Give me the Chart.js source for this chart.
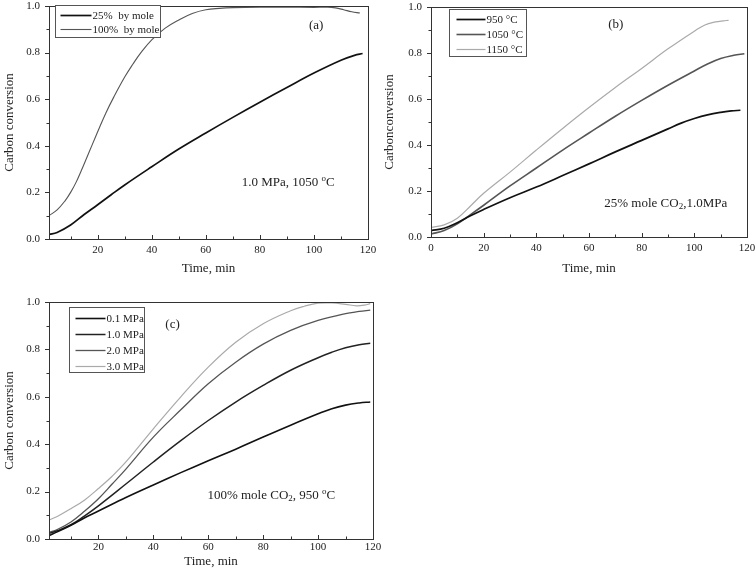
<!DOCTYPE html>
<html>
<head>
<meta charset="utf-8">
<script src="https://cdn.jsdelivr.net/npm/chart.js@4.4.1/dist/chart.umd.min.js"></script>
<style>
  body { margin: 0; background: #fff; }
  canvas { position: absolute; }
</style>
</head>
<body>
<canvas id="chart_a" style="left:0;top:0" width="380" height="280"></canvas>
<canvas id="chart_b" style="left:380px;top:0" width="376" height="280"></canvas>
<canvas id="chart_c" style="left:0;top:285px" width="400" height="293"></canvas>
<script>
const FONT = "'Liberation Serif', 'Times New Roman', serif";

// tick labels
const xTicksAC = [20, 40, 60, 80, 100, 120];
const xTicksB = [0, 20, 40, 60, 80, 100, 120];
const yTicks = [0, 0.2, 0.4, 0.6, 0.8, 1.0];

// (a) 1.0 MPa, 1050 C
const timeA25 = [2, 5, 10, 15, 20, 25, 30, 40, 50, 60, 70, 80, 90, 100, 110, 115, 118];
const convA25 = [0.019, 0.028, 0.06, 0.105, 0.147, 0.19, 0.232, 0.31, 0.386, 0.455, 0.522, 0.587, 0.65, 0.712, 0.767, 0.788, 0.796];
const timeA100 = [2, 5, 8, 10, 12, 14, 16, 18, 20, 23, 26, 30, 33, 36, 40, 45, 50, 55, 60, 65, 70, 80, 90, 100, 105, 108, 111, 114, 117];
const convA100 = [0.10, 0.125, 0.165, 0.20, 0.243, 0.295, 0.35, 0.405, 0.46, 0.54, 0.61, 0.695, 0.75, 0.80, 0.855, 0.905, 0.94, 0.968, 0.984, 0.99, 0.993, 0.995, 0.995, 0.994, 0.995, 0.992, 0.984, 0.975, 0.97];

// (b) 25% mole CO2, 1.0 MPa
const timeB950 = [0, 5, 10, 15, 20, 30, 40, 50, 60, 70, 80, 90, 95, 100, 105, 110, 114, 117.5];
const convB950 = [0.028, 0.038, 0.062, 0.092, 0.12, 0.171, 0.217, 0.267, 0.318, 0.37, 0.42, 0.47, 0.495, 0.515, 0.531, 0.542, 0.548, 0.551];
const timeB1050 = [0, 5, 10, 15, 20, 30, 40, 50, 60, 70, 80, 90, 100, 105, 110, 115, 119];
const convB1050 = [0.013, 0.028, 0.057, 0.097, 0.138, 0.222, 0.3, 0.378, 0.452, 0.525, 0.594, 0.66, 0.722, 0.752, 0.776, 0.79, 0.797];
const timeB1150 = [0, 5, 10, 15, 20, 30, 40, 50, 60, 70, 80, 90, 100, 104, 108, 111, 113];
const convB1150 = [0.042, 0.053, 0.082, 0.135, 0.19, 0.282, 0.378, 0.472, 0.563, 0.65, 0.733, 0.818, 0.895, 0.922, 0.935, 0.94, 0.942];

// (c) 100% mole CO2, 950 C
const timeC01 = [2, 5, 10, 15, 20, 30, 40, 50, 60, 70, 80, 90, 100, 105, 110, 115, 119];
const convC01 = [0.014, 0.03, 0.058, 0.09, 0.118, 0.175, 0.228, 0.28, 0.33, 0.379, 0.43, 0.48, 0.528, 0.55, 0.565, 0.574, 0.578];
const timeC10 = [2, 5, 10, 15, 20, 30, 40, 50, 60, 70, 80, 90, 100, 105, 110, 115, 119];
const convC10 = [0.024, 0.035, 0.06, 0.098, 0.14, 0.232, 0.325, 0.415, 0.5, 0.578, 0.648, 0.712, 0.765, 0.788, 0.807, 0.82, 0.826];
const timeC20 = [2, 5, 10, 15, 20, 25, 30, 40, 50, 60, 70, 80, 90, 100, 110, 115, 119];
const convC20 = [0.028, 0.04, 0.072, 0.118, 0.17, 0.232, 0.295, 0.43, 0.545, 0.655, 0.746, 0.822, 0.88, 0.922, 0.951, 0.96, 0.966];
const timeC30 = [2, 5, 10, 15, 20, 25, 30, 40, 50, 60, 70, 80, 90, 95, 100, 105, 110, 114, 117, 119];
const convC30 = [0.08, 0.095, 0.128, 0.165, 0.213, 0.265, 0.325, 0.465, 0.6, 0.725, 0.83, 0.908, 0.963, 0.982, 0.995, 0.996, 0.99, 0.984, 0.987, 0.993];

function pts(xs, ys) {
    return xs.map((x, i) => ({x: x, y: ys[i]}));
}

function series(label, xs, ys, color, width) {
    return {label: label, data: pts(xs, ys), borderColor: color, backgroundColor: color,
            borderWidth: width, pointRadius: 0, fill: false, tension: 0.4};
}

// frame, inward x ticks, outward y ticks, boxed legend and text notes
const framePlugin = {
    id: 'frame',
    afterDatasetsDraw(chart, args, opts) {
        const ctx = chart.ctx;
        const a = chart.chartArea;
        const xs = chart.scales.x, ys = chart.scales.y;
        ctx.save();
        ctx.strokeStyle = '#333';
        ctx.lineWidth = 1;
        ctx.strokeRect(Math.round(a.left) + 0.5, Math.round(a.top) + 0.5,
                       Math.round(a.right - a.left), Math.round(a.bottom - a.top));
        ctx.beginPath();
        for (let v = Math.ceil(xs.min / 10) * 10; v <= xs.max; v += 10) {
            const px = Math.round(xs.getPixelForValue(v)) + 0.5;
            ctx.moveTo(px, a.bottom);
            ctx.lineTo(px, a.bottom - (v % 20 === 0 ? 4 : 2.5));
        }
        for (let i = 0; i <= 10; i++) {
            const py = Math.round(ys.getPixelForValue(i / 10)) + 0.5;
            ctx.moveTo(a.left, py);
            ctx.lineTo(a.left - (i % 2 === 0 ? 4 : 2.5), py);
        }
        ctx.stroke();

        // legend
        const lg = opts.legend;
        const bx = Math.round(a.left + lg.dx) + 0.5, by = Math.round(a.top + lg.dy) + 0.5;
        ctx.fillStyle = '#fff';
        ctx.fillRect(bx, by, lg.w, lg.h);
        ctx.strokeStyle = '#555';
        ctx.strokeRect(bx, by, lg.w, lg.h);
        ctx.font = '11px ' + FONT;
        ctx.textBaseline = 'middle';
        ctx.textAlign = 'left';
        chart.data.datasets.forEach((ds, i) => {
            const ry = by + lg.row0 + i * lg.rowH;
            ctx.strokeStyle = ds.borderColor;
            ctx.lineWidth = ds.borderWidth;
            ctx.beginPath();
            ctx.moveTo(bx + lg.x0, ry);
            ctx.lineTo(bx + lg.x1, ry);
            ctx.stroke();
            ctx.fillStyle = '#222';
            ctx.fillText(ds.label, bx + lg.x1 + 1, ry + 1);
        });

        // notes: parts are [text, 'sup' | 'sub' | '']
        opts.notes.forEach(n => {
            const size = n.size || 13;
            const widths = n.parts.map(p => {
                ctx.font = (p[1] ? Math.round(size * 0.7) : size) + 'px ' + FONT;
                return ctx.measureText(p[0]).width;
            });
            const total = widths.reduce((s, w) => s + w, 0);
            let px = xs.getPixelForValue(n.x);
            if (n.center) px -= total / 2;
            const py = ys.getPixelForValue(n.y);
            ctx.fillStyle = '#222';
            n.parts.forEach((p, i) => {
                ctx.font = (p[1] ? Math.round(size * 0.7) : size) + 'px ' + FONT;
                const dy = p[1] === 'sup' ? -4 : (p[1] === 'sub' ? 3 : 0);
                ctx.fillText(p[0], px, py + dy);
                px += widths[i];
            });
        });
        ctx.restore();
    }
};

function makeChart(id, datasets, p) {
    const ctx = document.getElementById(id).getContext('2d');
    return new Chart(ctx, {
        type: 'line',
        data: {datasets: datasets},
        plugins: [framePlugin],
        options: {
            responsive: false,
            animation: false,
            layout: {padding: {left: 0, top: p.top, right: p.right, bottom: 0}},
            plugins: {
                legend: {display: false},
                tooltip: {enabled: false},
                frame: {legend: p.legend, notes: p.notes}
            },
            scales: {
                x: {
                    type: 'linear', min: p.xMin, max: 120,
                    afterBuildTicks: s => { s.ticks = p.xTicks.map(v => ({value: v})); },
                    afterFit: s => { s.height = p.bottomH; s.paddingLeft = 0; s.paddingRight = 0; },
                    grid: {display: false, drawTicks: false},
                    border: {display: false},
                    ticks: {color: '#222', font: {family: FONT, size: 11}, padding: p.xTickPad, maxRotation: 0},
                    title: {display: true, text: 'Time, min', color: '#222',
                            font: {family: FONT, size: 13}, padding: {top: 0, bottom: p.xTitlePad}}
                },
                y: {
                    min: 0, max: 1,
                    afterBuildTicks: s => { s.ticks = yTicks.map(v => ({value: v})); },
                    afterFit: s => { s.width = p.leftW; s.paddingTop = 0; s.paddingBottom = 0; },
                    grid: {display: false, drawTicks: false},
                    border: {display: false},
                    ticks: {color: '#222', font: {family: FONT, size: 11}, padding: 9,
                            callback: v => v.toFixed(1)},
                    title: {display: true, text: p.yTitle, color: '#222',
                            font: {family: FONT, size: 13}, padding: {top: 2, bottom: 0}}
                }
            }
        }
    });
}

makeChart('chart_a', [
    series('25%  by mole', timeA25, convA25, '#111', 1.7),
    series('100%  by mole', timeA100, convA100, '#555', 1.1)
], {
    top: 6, right: 12, leftW: 49, bottomH: 41, xMin: 2, xTicks: xTicksAC, xTickPad: 5, xTitlePad: 4,
    yTitle: 'Carbon conversion',
    legend: {dx: 6, dy: -1, w: 105, h: 32, row0: 10, rowH: 14, x0: 5, x1: 36},
    notes: [
        {x: 100.8, y: 0.917, center: true, parts: [['(a)', '']]},
        {x: 73.3, y: 0.241, parts: [['1.0 MPa, 1050 ', ''], ['o', 'sup'], ['C', '']]}
    ]
});

makeChart('chart_b', [
    series('950 °C', timeB950, convB950, '#111', 1.7),
    series('1050 °C', timeB1050, convB1050, '#555', 1.6),
    series('1150 °C', timeB1150, convB1150, '#aaa', 1.2)
], {
    top: 7, right: 9, leftW: 51, bottomH: 43, xMin: 0, xTicks: xTicksB, xTickPad: 5, xTitlePad: 4,
    yTitle: 'Carbonconversion',
    legend: {dx: 18, dy: 2, w: 77, h: 47, row0: 10, rowH: 15, x0: 7, x1: 36},
    notes: [
        {x: 70.2, y: 0.925, center: true, parts: [['(b)', '']]},
        {x: 65.8, y: 0.144, parts: [['25% mole CO', ''], ['2', 'sub'], [',1.0MPa', '']]}
    ]
});

makeChart('chart_c', [
    series('0.1 MPa', timeC01, convC01, '#111', 1.6),
    series('1.0 MPa', timeC10, convC10, '#222', 1.5),
    series('2.0 MPa', timeC20, convC20, '#555', 1.3),
    series('3.0 MPa', timeC30, convC30, '#aaa', 1.2)
], {
    top: 17, right: 27, leftW: 49, bottomH: 39, xMin: 2, xTicks: xTicksAC, xTickPad: 2, xTitlePad: 9,
    yTitle: 'Carbon conversion',
    legend: {dx: 20, dy: 5, w: 75, h: 65, row0: 11, rowH: 16, x0: 6, x1: 36},
    notes: [
        {x: 47, y: 0.906, center: true, parts: [['(c)', '']]},
        {x: 59.7, y: 0.185, parts: [['100% mole CO', ''], ['2', 'sub'], [', 950 ', ''], ['o', 'sup'], ['C', '']]}
    ]
});
</script>
</body>
</html>
